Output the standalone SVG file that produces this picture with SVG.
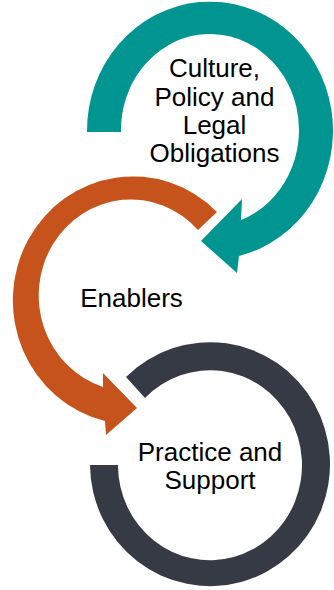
<svg xmlns="http://www.w3.org/2000/svg" width="334" height="590" viewBox="0 0 334 590">
<style>
  .lbl { font-family: "Liberation Sans", Arial, sans-serif; font-size: 26px; fill: #000000; text-anchor: middle; }
  .teal { fill: #009591; }
  .orange { fill: #C5531B; }
  .dark { fill: #353A45; }
</style>
<rect width="334" height="590" fill="#FFFFFF"/>
<g id="node-practice">
  <path class="dark" d="M 126,377 A 120 122 0 1 1 90,465 L 118,465 A 92 95 0 1 0 145,398 Z"/>
  <text class="lbl" x="210" y="461">Practice and</text>
  <text class="lbl" x="210" y="489">Support</text>
</g>
<g id="node-enablers">
  <path class="orange" d="M 217,212 A 120 124 0 1 0 105,421 L 106,435 L 137,408 L 103,373 L 103,387 A 92 96 0 1 1 198,230 Z"/>
  <text class="lbl" x="131.5" y="307">Enablers</text>
</g>
<g id="node-culture">
  <path class="teal" d="M 87,132 A 123 129 0 1 1 239,256 L 237,273 L 201,241 L 242,199 L 241,220 A 89 96 0 1 0 121,132 Z"/>
  <text class="lbl" x="214.5" y="77">Culture,</text>
  <text class="lbl" x="214.5" y="105.5">Policy and</text>
  <text class="lbl" x="214.5" y="134">Legal</text>
  <text class="lbl" x="214.5" y="162">Obligations</text>
</g>
</svg>
